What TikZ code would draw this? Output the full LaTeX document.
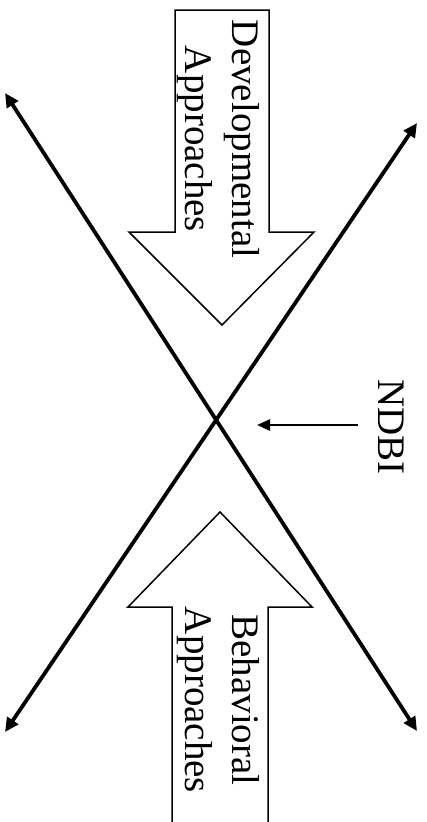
\documentclass[tikz,border=0pt]{standalone}
\usepackage{fontspec}
\setmainfont{Liberation Serif}
\usetikzlibrary{arrows.meta}
\begin{document}
\begin{tikzpicture}[x=1pt,y=-1pt,
  blockarrow/.style={draw=black,fill=white,line width=1.5pt,line join=miter},
  mainline/.style={line width=3.8pt,{Triangle[length=14pt,width=13pt]}-{Triangle[length=14pt,width=13pt]}},
  lbl/.style={rotate=-90,font=\fontsize{39}{47}\selectfont,align=center,inner sep=0pt},
  ptr/.style={line width=2.4pt,-{Triangle[length=13pt,width=11pt]}}]
\useasboundingbox (0,0) rectangle (426,822);
\begin{scope}
\clip (0,0) rectangle (426,822);
% top block arrow
\draw[blockarrow] (175,10) -- (269,10) -- (269,232) -- (314,232) -- (222,325) -- (129,232) -- (175,232) -- cycle;
% bottom block arrow
\fill[white] (172,830) -- (172,607) -- (128,607) -- (220,512) -- (312,607) -- (268,607) -- (268,830) -- cycle;
\draw[blockarrow] (172,830) -- (172,607) -- (128,607) -- (220,512) -- (312,607) -- (268,607) -- (268,830);
\end{scope}
\node[lbl] (dev) at (218,139) {Developmental\\Approaches};
\node[lbl] (beh) at (218,700) {Behavioral\\Approaches};
% crossing lines
\coordinate (tl) at (5,93);
\coordinate (br) at (417,731);
\coordinate (tr) at (417,123);
\coordinate (bl) at (5,732);
\draw[mainline] (tl) -- (br);
\draw[mainline] (bl) -- (tr);
% NDBI
\node[lbl,anchor=base] (ndbi) at (378,427) {NDBI};
\coordinate (ndbiStart) at (358,425);
\coordinate (ndbiTip) at (257,425);
\draw[ptr] (ndbiStart) -- (ndbiTip);
\end{tikzpicture}
\end{document}
